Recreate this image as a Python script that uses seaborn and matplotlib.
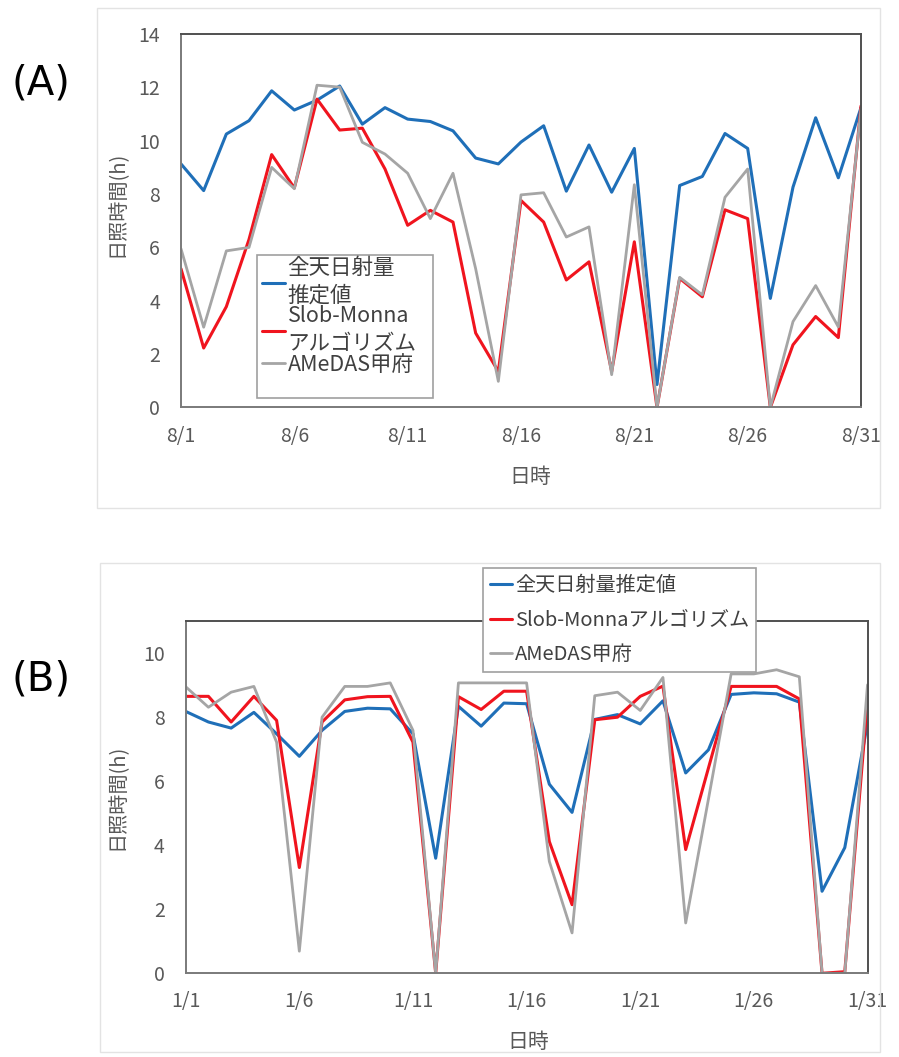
import numpy as np
import pandas as pd
import matplotlib
matplotlib.use("Agg")
import matplotlib.pyplot as plt
from matplotlib.patches import Rectangle
import seaborn as sns

# ---- data ----------------------------------------------------------------
days = list(range(1, 32))

tick_days = [1, 6, 11, 16, 21, 26, 31]
tick_labels_a = ["8/1", "8/6", "8/11", "8/16", "8/21", "8/26", "8/31"]
tick_labels_b = ["1/1", "1/6", "1/11", "1/16", "1/21", "1/26", "1/31"]

series_names = ["全天日射量推定値", "Slob-Monnaアルゴリズム", "AMeDAS甲府"]
legend_labels_a = ["全天日射量\n推定値", "Slob-Monna\nアルゴリズム", "AMeDAS甲府"]

# August
est_a = [9.13, 8.13, 10.25, 10.75, 11.87, 11.15, 11.52, 12.05, 10.62, 11.24,
         10.81, 10.72, 10.37, 9.35, 9.13, 9.95, 10.56, 8.11, 9.84, 8.07,
         9.71, 0.86, 8.32, 8.66, 10.27, 9.71, 4.09, 8.26, 10.86, 8.61, 11.24]
slob_a = [5.2, 2.23, 3.78, 6.3, 9.48, 8.23, 11.56, 10.4, 10.47, 8.94,
          6.83, 7.39, 6.95, 2.79, 1.35, 7.76, 6.95, 4.78, 5.46, 1.35,
          6.21, 0.0, 4.84, 4.15, 7.41, 7.08, 0.0, 2.35, 3.41, 2.62, 11.3]
amedas_a = [5.95, 3.01, 5.87, 6.0, 9.0, 8.2, 12.08, 12.01, 9.94, 9.5,
            8.78, 7.08, 8.78, 5.2, 0.98, 7.97, 8.05, 6.39, 6.77, 1.23,
            8.35, 0.0, 4.88, 4.22, 7.88, 8.94, 0.0, 3.22, 4.57, 3.02, 11.2]

# January
est_b = [8.17, 7.84, 7.65, 8.14, 7.47, 6.77, 7.58, 8.17, 8.27, 8.25,
         7.47, 3.59, 8.33, 7.71, 8.43, 8.41, 5.9, 5.02, 7.92, 8.07,
         7.78, 8.5, 6.25, 6.97, 8.7, 8.75, 8.72, 8.46, 2.56, 3.92, 7.8]
slob_b = [8.64, 8.64, 7.84, 8.64, 7.89, 3.3, 7.84, 8.53, 8.63, 8.64,
          7.21, 0.0, 8.63, 8.23, 8.8, 8.8, 4.11, 2.14, 7.91, 7.99,
          8.64, 8.96, 3.86, 6.4, 8.95, 8.95, 8.95, 8.56, 0.0, 0.05, 8.5]
amedas_b = [8.94, 8.3, 8.77, 8.95, 7.21, 0.69, 7.99, 8.95, 8.95, 9.06,
            7.58, 0.0, 9.06, 9.06, 9.06, 9.06, 3.49, 1.26, 8.66, 8.77,
            8.2, 9.23, 1.57, 5.43, 9.34, 9.34, 9.47, 9.25, 0.0, 0.0, 9.0]

# ---- style ---------------------------------------------------------------
sns.set_style("white")
plt.rcParams["font.family"] = ["Noto Sans CJK JP", "DejaVu Sans"]

colors = ["#1f6fb8", "#f0141e", "#a5a5a5"]
widths = [2.2, 2.2, 2.0]
text_gray = "#595959"

W, H = 899, 1057
fig = plt.figure(figsize=(W / 100, H / 100), dpi=100)


def px_axes(left, top, right, bottom):
    return fig.add_axes([left / W, 1 - bottom / H, (right - left) / W, (bottom - top) / H])


def px_rect(left, top, right, bottom, **kw):
    return Rectangle((left / W, 1 - bottom / H), (right - left) / W,
                     (bottom - top) / H, transform=fig.transFigure, **kw)


def long_frame(values):
    return pd.DataFrame({
        "day": days * 3,
        "hours": values[0] + values[1] + values[2],
        "series": sum([[n] * len(days) for n in series_names], []),
    })


def draw_panel(ax, values, ymax, tick_labels):
    df = long_frame(values)
    for name, c, lw in zip(series_names, colors, widths):
        sns.lineplot(data=df[df["series"] == name], x="day", y="hours",
                     color=c, linewidth=lw, ax=ax, legend=False)
    ax.set_xlim(1, 31)
    ax.set_ylim(0, ymax)
    ax.set_yticks(np.arange(0, ymax + 0.01, 2))
    ax.set_xticks(tick_days)
    ax.set_xticklabels(tick_labels)
    ax.tick_params(axis="both", length=0, labelsize=14, colors=text_gray)
    ax.tick_params(axis="y", pad=15)
    ax.tick_params(axis="x", pad=13)
    for side, s in ax.spines.items():
        s.set_color("#505050" if side in ("top", "right") else "#7a7a7a")
        s.set_linewidth(1.4)
    ax.set_xlabel("日時", fontsize=15, color=text_gray)
    ax.set_ylabel("日照時間(h)", fontsize=14.5, color=text_gray)
    ax.grid(False)


def style_legend(leg):
    for t in leg.get_texts():
        t.set_color("#404040")
    leg.set_zorder(10)


# ---- panel (A) -------------------------------------------------------------
fig.patches.append(px_rect(97, 8, 880, 508, fill=False, edgecolor="#e3e3e3", lw=1.0))
ax_a = px_axes(181, 34, 861, 407.5)
draw_panel(ax_a, [est_a, slob_a, amedas_a], 14, tick_labels_a)
ax_a.xaxis.set_label_coords((530 - 181) / 680, -(466 - 407.5) / 373.5)
ax_a.yaxis.set_label_coords((128 - 181) / 680, (407.5 - 204) / 373.5)
# legend frame (taller than its entries, with blank space below)
ax_a.add_patch(px_rect(256.7, 255, 433.3, 398.3, facecolor="white", edgecolor="#a0a0a0",
                       lw=1.2, zorder=5, clip_on=False))
leg_a = ax_a.legend(ax_a.get_lines()[:3], legend_labels_a, loc="upper left",
                    bbox_to_anchor=(258 / W, 1 - 253 / H), bbox_transform=fig.transFigure,
                    fontsize=15.5, frameon=False, labelspacing=-0.06,
                    handlelength=1.05, handletextpad=0.12, borderpad=0.2, borderaxespad=0)
for t in leg_a.get_texts():
    t.set_linespacing(1.32)
style_legend(leg_a)
fig.text(41 / W, 1 - 83 / H, "(A)", fontsize=29, ha="center", va="center",
         color="black", family="DejaVu Sans")

# ---- panel (B) -------------------------------------------------------------
fig.patches.append(px_rect(100, 563, 880, 1052, fill=False, edgecolor="#e3e3e3", lw=1.0))
ax_b = px_axes(185.7, 620.7, 867.5, 973.3)
draw_panel(ax_b, [est_b, slob_b, amedas_b], 11, tick_labels_b)
ax_b.xaxis.set_label_coords((528 - 185.7) / 681.8, -(1031 - 973.3) / 352.6)
ax_b.yaxis.set_label_coords((128 - 185.7) / 681.8, 0.5)
leg_b = ax_b.legend(ax_b.get_lines()[:3], series_names, loc="upper left",
                    bbox_to_anchor=(482.7 / W, 1 - 568.3 / H), bbox_transform=fig.transFigure,
                    fontsize=14.5, frameon=True, fancybox=False, edgecolor="#a0a0a0",
                    framealpha=1, labelspacing=0.66, handlelength=1.1,
                    handletextpad=0.15, borderpad=0.35, borderaxespad=0)
leg_b.get_frame().set_linewidth(1.2)
style_legend(leg_b)
fig.text(41 / W, 1 - 680 / H, "(B)", fontsize=29, ha="center", va="center",
         color="black", family="DejaVu Sans")

fig.savefig("out.png", dpi=100)
